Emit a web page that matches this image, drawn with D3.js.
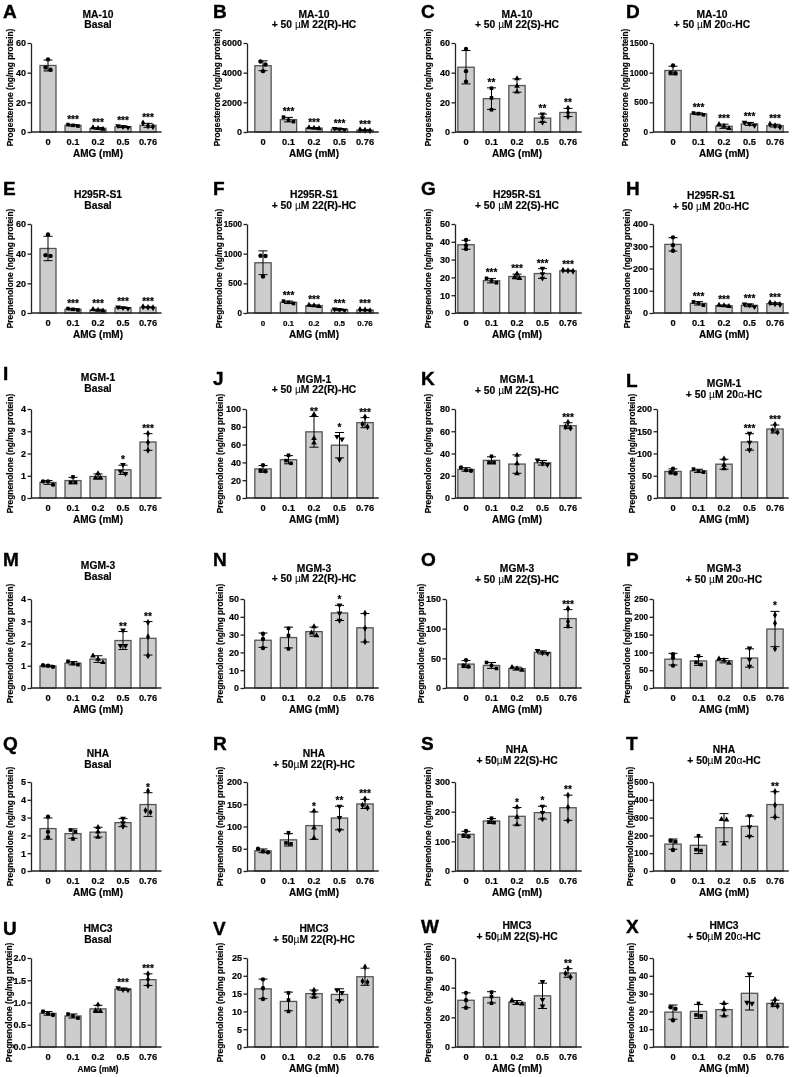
<!DOCTYPE html>
<html>
<head>
<meta charset="utf-8">
<script src="https://cdn.jsdelivr.net/npm/d3@7"></script>
<style>
  body { margin: 0; background: #fff; }
  #fig { will-change: transform; }
  text { font-family: "Liberation Sans", Arial, sans-serif; font-weight: bold; fill: #000;
         stroke: #000; stroke-width: 0.18px; }
</style>
</head>
<body>
<div id="fig"></div>
<script>
// ---- data ----
var cats = ["0", "0.1", "0.2", "0.5", "0.76"];
var panelIds = "ABCDEFGHIJKLMNOPQRSTUVWX".split("");
var cellLines = ["MA-10", "H295R-S1", "MGM-1", "MGM-3", "NHA", "HMC3"];
var treatSpaced = ["Basal", "+ 50 µM 22(R)-HC", "+ 50 µM 22(S)-HC", "+ 50 µM 20α-HC"];
var treatTight = ["Basal", "+ 50µM 22(R)-HC", "+ 50µM 22(S)-HC", "+ 50µM 20α-HC"];
var yLabels = ["Progesterone (ng/mg protein)", "Pregnenolone (ng/mg protein)"];

// three replicate values per AMG dose
var dotsA = [[49, 42, 43.5], [4, 4.5, 5], [2, 2.5, 3], [3, 3.5, 4.2], [3.5, 4, 6]];
var dotsB = [[4750, 4550, 4100], [1000, 800, 700], [230, 260, 300], [150, 200, 230], [90, 120, 150]];
var dotsC = [[56, 41, 34], [29.5, 23, 15], [36, 31, 27], [12, 9.5, 6.5], [16, 13, 10.5]];
var dotsD = [[1120, 990, 1000], [290, 310, 320], [60, 100, 130], [110, 140, 160], [85, 105, 130]];
var dotsE = [[53, 38.5, 39], [2, 2.5, 3], [1.5, 2, 2.5], [3, 3.5, 4], [3.5, 3.8, 4.2]];
var dotsF = [[965, 960, 615], [160, 180, 200], [110, 125, 135], [45, 55, 65], [40, 50, 60]];
var dotsG = [[41, 38, 36], [17, 18, 19.5], [19.5, 20, 22], [25, 22, 19.5], [23.5, 23.8, 24]];
var dotsH = [[340, 305, 280], [35, 45, 50], [30, 33, 36], [28, 35, 40], [38, 42, 46]];
var dotsI = [[0.6, 0.75, 0.75], [0.95, 0.7, 0.7], [1.1, 0.9, 0.9], [1.5, 1.1, 1.2], [2.9, 2.5, 2.15]];
var dotsJ = [[37, 30, 31], [48, 39, 42], [94, 67, 62], [69, 66, 43], [91, 83, 80]];
var dotsK = [[27.5, 25, 24.5], [37.5, 32, 32], [38.5, 31, 22], [34, 31, 30], [68, 64, 63]];
var dotsL = [[66, 55, 58], [65, 58, 60], [88, 74, 66], [145, 125, 108], [165, 148, 152]];
var dotsM = [[0.95, 1.0, 1.02], [1.2, 1.05, 1.1], [1.45, 1.3, 1.15], [2.6, 1.9, 1.9], [2.95, 2.3, 1.45]];
var dotsN = [[30.5, 27.5, 22.5], [33.5, 29.5, 22], [34.5, 31, 29.5], [46.5, 42, 38], [42, 33.5, 26]];
var dotsO = [[47, 38, 36], [43, 38, 33], [35, 33, 30], [63, 59, 58], [134, 112, 105]];
var dotsP = [[95, 85, 63], [90, 72, 66], [82, 78, 70], [112, 80, 61], [205, 182, 110]];
var dotsQ = [[3.05, 2.2, 1.9], [2.3, 2.2, 1.8], [2.45, 2.2, 1.9], [2.95, 2.7, 2.5], [4.5, 3.4, 3.3]];
var dotsR = [[50, 44, 42], [86, 63, 61], [135, 97, 74], [145, 120, 92], [162, 148, 142]];
var dotsS = [[135, 120, 116], [178, 165, 163], [215, 182, 156], [218, 197, 175], [255, 215, 170]];
var dotsT = [[170, 165, 118], [198, 120, 115], [290, 288, 152], [310, 248, 195], [447, 370, 303]];
var dotsU = [[0.8, 0.75, 0.72], [0.74, 0.7, 0.65], [0.95, 0.82, 0.8], [1.33, 1.29, 1.28], [1.64, 1.52, 1.38]];
var dotsV = [[19, 16.5, 13.5], [15.2, 13.2, 10], [16, 15, 14], [16, 15.3, 13], [22.5, 18.5, 18.2]];
var dotsW = [[36.5, 31.5, 26.5], [37, 34, 29.5], [31.5, 29.5, 29], [44, 32, 27.5], [53, 49.5, 47.2]];
var dotsX = [[22.3, 21.5, 15], [24.5, 18, 17.5], [24.5, 21, 17.5], [41, 25, 24.5], [26.5, 24, 23]];

var allDots = [dotsA, dotsB, dotsC, dotsD, dotsE, dotsF, dotsG, dotsH, dotsI, dotsJ, dotsK, dotsL,
               dotsM, dotsN, dotsO, dotsP, dotsQ, dotsR, dotsS, dotsT, dotsU, dotsV, dotsW, dotsX];

// y tick labels per panel
var yTicks = [
  [0, 20, 40, 60], [0, 2000, 4000, 6000], [0, 20, 40, 60], [0, 500, 1000, 1500],
  [0, 20, 40, 60], [0, 500, 1000, 1500], [0, 10, 20, 30, 40, 50], [0, 100, 200, 300, 400],
  [0, 1, 2, 3, 4], [0, 20, 40, 60, 80, 100], [0, 20, 40, 60, 80], [0, 50, 100, 150, 200],
  [0, 1, 2, 3, 4], [0, 10, 20, 30, 40, 50], [0, 50, 100, 150], [0, 50, 100, 150, 200, 250],
  [0, 1, 2, 3, 4, 5], [0, 50, 100, 150, 200], [0, 100, 200, 300], [0, 100, 200, 300, 400, 500],
  [0, 0.5, 1.0, 1.5, 2.0], [0, 5, 10, 15, 20, 25], [0, 20, 40, 60], [0, 10, 20, 30, 40, 50]
];

// significance marks per dose
var stars = [
  ["", "***", "***", "***", "***"], ["", "***", "***", "***", "***"], ["", "**", "", "**", "**"], ["", "***", "***", "***", "***"],
  ["", "***", "***", "***", "***"], ["", "***", "***", "***", "***"], ["", "***", "***", "***", "***"], ["", "***", "***", "***", "***"],
  ["", "", "", "*", "***"], ["", "", "**", "*", "***"], ["", "", "", "", "***"], ["", "", "", "***", "***"],
  ["", "", "", "**", "**"], ["", "", "", "*", ""], ["", "", "", "", "***"], ["", "", "", "", "*"],
  ["", "", "", "", "*"], ["", "", "*", "**", "***"], ["", "", "*", "*", "**"], ["", "", "", "", "**"],
  ["", "", "", "***", "***"], ["", "", "", "", ""], ["", "", "", "", "**"], ["", "", "", "", ""]
];

// ---- layout ----
var W = 792, H = 1077;
var cols = [
  {axis: 31, first: 48, last: 148, letter: 3, ylab: 10},
  {axis: 247, first: 263, last: 365, letter: 213, ylab: 220},
  {axis: 455, first: 466, last: 568, letter: 421, ylab: 428},
  {axis: 653, first: 673, last: 775, letter: 626, ylab: 627}
];
var rows = [
  {top: 43, base: 132}, {top: 224, base: 313}, {top: 409, base: 498},
  {top: 599, base: 688}, {top: 782, base: 871}, {top: 958, base: 1047}
];
var titleY = [17.5, 17.5, 17.5, 17.5, 198, 198, 198, 199, 381, 382.5, 383, 387,
              569, 571.5, 572, 572, 757, 757, 753, 753, 932, 932, 929, 929];
var letterY = [18, 18, 18, 18, 195, 195, 195, 195, 380, 385, 385, 387,
               566, 566, 566, 566, 750, 750, 750, 750, 935, 935, 933, 933];
var axisShift = {O: -9, L: 4, J: -1, N: -3};
var titleShift = {D: -12, H: -13};
var ylabShift = {L: 6, T: 4, X: 4, O: -2};
var smallTicks = {D: 1, F: 1, P: 1, T: 1, X: 1};

var symbols = [d3.symbolCircle, d3.symbolSquare, d3.symbolTriangle, d3.symbolTriangle, d3.symbolDiamond];
var symSize = [15, 13, 14, 14, 14];

var svg = d3.select("#fig").append("svg")
  .attr("width", W).attr("height", H);

function addRichText(sel, str) {
  // Greek letters in regular weight, the rest bold
  str.split(/([µα])/).forEach(function(part) {
    if (!part) return;
    sel.append("tspan")
      .attr("font-weight", /[µα]/.test(part) ? "normal" : "bold")
      .style("stroke-width", /[µα]/.test(part) ? "0" : null)
      .text(part);
  });
}

panelIds.forEach(function(id, i) {
  var r = Math.floor(i / 4), c = i % 4;
  var col = cols[c], row = rows[r];
  var dots = allDots[i], ticks = yTicks[i];
  var axisX = col.axis + (axisShift[id] || 0);
  var step = (col.last - col.first) / 4;

  var x = d3.scaleBand().domain(cats)
    .range([col.first - step / 2, col.last + step / 2])
    .paddingInner(0.36).paddingOuter(0.18);
  var y = d3.scaleLinear().domain([0, ticks[ticks.length - 1]]).range([row.base, row.top]);

  var g = svg.append("g");

  // panel letter
  g.append("text").attr("x", col.letter).attr("y", letterY[i])
    .style("font-size", "19px").style("stroke-width", "0.4px").text(id);

  // title
  var tx = (col.first + col.last) / 2 + (titleShift[id] || 0);
  var treat = r >= 4 ? treatTight[c] : treatSpaced[c];
  g.append("text").attr("x", tx).attr("y", titleY[i]).attr("text-anchor", "middle")
    .style("font-size", "10.3px").text(cellLines[r]);
  addRichText(g.append("text").attr("x", tx).attr("y", titleY[i] + 10.8)
    .attr("text-anchor", "middle").style("font-size", "10.3px"), treat);

  // bars
  var stats = dots.map(function(v, k) {
    return {cat: cats[k], k: k, mean: d3.mean(v), sd: d3.deviation(v), vals: v};
  });

  g.selectAll("rect.bar").data(stats).join("rect")
    .attr("class", "bar")
    .attr("x", function(d) { return x(d.cat); })
    .attr("width", x.bandwidth())
    .attr("y", function(d) { return y(d.mean); })
    .attr("height", function(d) { return row.base - y(d.mean); })
    .attr("fill", "#cdcdcd").attr("stroke", "#555").attr("stroke-width", 1.3);

  // error bars
  var cap = 4.5;
  stats.forEach(function(d) {
    var cx = x(d.cat) + x.bandwidth() / 2;
    var yt = y(d.mean + d.sd), yb = y(Math.max(0, d.mean - d.sd));
    var eb = g.append("g").attr("stroke", "#000").attr("stroke-width", 1);
    eb.append("line").attr("x1", cx).attr("x2", cx).attr("y1", yt).attr("y2", yb);
    eb.append("line").attr("x1", cx - cap).attr("x2", cx + cap).attr("y1", yt).attr("y2", yt);
    eb.append("line").attr("x1", cx - cap).attr("x2", cx + cap).attr("y1", yb).attr("y2", yb);

    // replicate points, spread sideways when they overlap
    var pts = d.vals.map(function(v) { return {py: y(v), dx: 0}; });
    var sorted = pts.slice().sort(function(a, b) { return a.py - b.py; });
    var groups = [], cur = [];
    sorted.forEach(function(p) {
      if (cur.length && p.py - cur[cur.length - 1].py > 3.5) { groups.push(cur); cur = []; }
      cur.push(p);
    });
    groups.push(cur);
    groups.forEach(function(gr) {
      gr.forEach(function(p, j) { p.dx = (j - (gr.length - 1) / 2) * 5; });
    });
    var sym = d3.symbol().type(symbols[d.k]).size(symSize[d.k]);
    pts.forEach(function(p) {
      g.append("path").attr("d", sym())
        .attr("transform", "translate(" + (cx + p.dx) + "," + p.py + ")" + (d.k === 3 ? " rotate(180)" : ""))
        .attr("fill", "#000");
    });

    // significance
    if (stars[i][d.k]) {
      g.append("text").attr("x", cx).attr("y", yt - 2)
        .attr("text-anchor", "middle").attr("fill", "#000")
        .style("font-size", "10px")
        .text(stars[i][d.k]);
    }
  });

  // y axis
  var fmt = id === "U" ? d3.format(".1f") : d3.format("d");
  var ya = g.append("g").attr("transform", "translate(" + axisX + ",0)")
    .call(d3.axisLeft(y).tickValues(ticks).tickSize(3.5).tickSizeOuter(0).tickPadding(1.5).tickFormat(fmt));
  ya.select(".domain").attr("stroke", "#222").attr("stroke-width", 1.3);
  ya.selectAll(".tick line").attr("stroke", "#222").attr("stroke-width", 1.3);
  ya.selectAll(".tick text").attr("fill", "#000").style("font-size", smallTicks[id] ? "8.2px" : "9px")
    .style("font-family", "'Liberation Sans', Arial, sans-serif").style("font-weight", "bold");

  // x axis
  var xEnd = col.last + step / 2 + 1;
  g.append("line").attr("x1", axisX).attr("x2", xEnd)
    .attr("y1", row.base).attr("y2", row.base)
    .attr("stroke", "#222").attr("stroke-width", 1.3);
  var xa = g.append("g").attr("transform", "translate(0," + row.base + ")")
    .call(d3.axisBottom(x).tickSize(0).tickPadding(id === "F" ? 7.3 : 6.6));
  xa.select(".domain").remove();
  xa.selectAll(".tick text").attr("fill", "#000").style("font-size", id === "F" ? "8px" : "9.3px")
    .style("font-family", "'Liberation Sans', Arial, sans-serif").style("font-weight", "bold");

  g.append("text").attr("x", (col.first + col.last) / 2).attr("y", row.base + 25)
    .attr("text-anchor", "middle").style("font-size", id === "U" ? "8.2px" : "10px")
    .text("AMG (mM)");

  // y label, kept clear of the tick labels
  var bb = ya.node().getBBox();
  var ly = (row.top + row.base) / 2;
  var lx = Math.min(col.ylab + (ylabShift[id] || 0), axisX + bb.x - 4.5);
  g.append("text")
    .attr("transform", "translate(" + lx + "," + ly + ") rotate(-90)")
    .attr("text-anchor", "middle").attr("dy", "0.35em")
    .style("font-size", "8.4px")
    .text(r === 0 ? yLabels[0] : yLabels[1]);
});
</script>
</body>
</html>
